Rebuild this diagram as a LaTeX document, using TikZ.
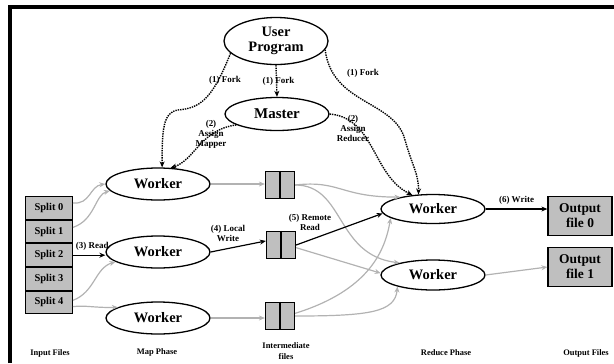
\documentclass[tikz,border=0pt]{standalone}
\usepackage{fontspec}
\setmainfont{Liberation Serif}
\usetikzlibrary{arrows.meta,positioning,shapes.geometric}

\begin{document}
\begin{tikzpicture}[
  x=1bp, y=-1bp,
  oval/.style={ellipse, draw, line width=1.3bp, minimum width=104bp, minimum height=32bp, inner sep=0pt, align=center, font=\bfseries\fontsize{14.5}{15}\selectfont},
  split/.style={rectangle, draw, line width=1bp, fill=black!25, minimum width=47bp, minimum height=22.6bp, inner sep=0pt, font=\bfseries\fontsize{10.5}{11}\selectfont},
  ifile/.style={rectangle, draw, line width=1.3bp, fill=black!25, minimum width=29bp, minimum height=27bp, inner sep=0pt},
  outbox/.style={rectangle, draw, line width=1.3bp, fill=black!25, minimum width=64bp, minimum height=39bp, inner sep=0pt, align=center, font=\bfseries\fontsize{13.5}{15}\selectfont},
  lbl/.style={align=center, inner sep=0pt, font=\bfseries\fontsize{9}{10}\selectfont},
  phase/.style={align=center, inner sep=0pt, font=\bfseries\fontsize{8.5}{11}\selectfont},
  fork/.style={draw, densely dotted, line width=1.4bp, -{Stealth[length=6bp,width=5bp]}},
  flow/.style={draw, line width=1.2bp, -{Stealth[length=6bp,width=5bp]}},
  idle/.style={draw, black!30, line width=1.2bp, -{Stealth[length=6bp,width=5bp]}},
]
  \useasboundingbox (0,0) rectangle (614,363);
  \draw[line width=4bp] (10.3,363) -- (10.3,7) -- (614,7);

  % master and user program
  \node[oval, minimum height=47bp] (user) at (276,41) {User\\Program};
  \node[oval, minimum height=33bp, font=\bfseries\fontsize{15}{16}\selectfont] (master) at (277,114) {Master};

  % input splits
  \node[split] (s0) at (49,208) {Split 0};
  \node[split, below=0pt of s0] (s1) {Split 1};
  \node[split, below=0pt of s1] (s2) {Split 2};
  \node[split, below=0pt of s2] (s3) {Split 3};
  \node[split, below=0pt of s3] (s4) {Split 4};

  % map workers
  \node[oval] (wm1) at (158,184) {Worker};
  \node[oval] (wm2) at (158,252) {Worker};
  \node[oval] (wm3) at (158,318) {Worker};

  % intermediate files
  \node[ifile] (if1) at (280,185) {};
  \node[ifile] (if2) at (281,245) {};
  \node[ifile] (if3) at (280,316) {};
  \draw[line width=1.3bp] (if1.north) -- (if1.south);
  \draw[line width=1.3bp] (if2.north) -- (if2.south);
  \draw[line width=1.3bp] (if3.north) -- (if3.south);

  % reduce workers and output
  \node[oval, minimum height=29bp] (wr1) at (433,209) {Worker};
  \node[oval, minimum height=30bp] (wr2) at (433,275) {Worker};
  \node[outbox] (o0) at (580,216) {Output\\file 0};
  \node[outbox] (o1) at (580,267) {Output\\file 1};

  % phase captions
  \node[phase] (capin) at (50,353) {Input Files};
  \node[phase] (capmap) at (157,352) {Map Phase};
  \node[phase] (capif) at (286,351) {Intermediate\\files};
  \node[phase] (capred) at (446,353) {Reduce Phase};
  \node[phase] (capout) at (586,353) {Output Files};

  % fork and assign
  \draw[fork] (user.south) -- node[lbl, pos=0.5, xshift=2bp] {(1) Fork} (master.north);
  \draw[fork] (user.195) .. controls (212,100) and (200,108) .. (178,110)
    .. controls (163,112) and (162,130) .. (wm1.76);
  \draw[fork] (master.195) .. controls (200,130) and (195,160) .. (wm1.52);
  \draw[fork] (user.-10) .. controls (332,105) and (395,100) .. (405,140)
    .. controls (412,165) and (419,175) .. (wr1.135);
  \draw[fork] (master.east) .. controls (375,118) and (372,175) .. (wr1.146);
  \node[lbl] (fork1) at (225,80) {(1) Fork};
  \node[lbl] (fork3) at (363,73) {(1) Fork};
  \node[lbl] (amap) at (211,134) {(2)\\Assign\\Mapper};
  \node[lbl] (ared) at (353,128) {(2)\\Assign\\Reducer};

  % reading splits
  \draw[idle] (s0.12) .. controls (90,205) and (90,186) .. (wm1.west);
  \draw[idle] (s1.10) .. controls (95,220) and (95,195) .. (wm1.188);
  \draw[flow] (s2.east) -- node[lbl, above=4bp, xshift=3bp] {(3) Read} (s2.east -| wm2.west);
  \draw[idle] (s4.5) .. controls (95,292) and (95,268) .. (wm2.193);
  \draw[idle] (s4.-10) .. controls (85,305) and (95,308) .. (wm3.165);

  % local write
  \draw[idle] (wm1.east) -- (wm1.east -| if1.west);
  \draw[flow] (wm2.east) -- (if2.165);
  \node[lbl] (lw) at (228,233) {(4) Local\\Write};
  \draw[idle] (wm3.east) -- (wm3.east -| if3.west);

  % remote read
  \draw[idle] (if1.east) .. controls (340,180) and (340,197) .. (wr1.160);
  \draw[idle] (if1.east) .. controls (345,185) and (335,255) .. (wr2.160);
  \draw[flow] (if2.east) -- (wr1.185);
  \node[lbl] (rr) at (310,222) {(5) Remote\\Read};
  \draw[idle] (if2.-10) -- (wr2.178);
  \draw[idle] (if3.10) .. controls (370,290) and (385,250) .. (wr1.192);
  \draw[idle] (if3.east) .. controls (370,316) and (395,312) .. (wr2.198);

  % output
  \draw[flow] (wr1.east) -- node[lbl, above=4bp] {(6) Write} (wr1.east -| o0.west);
  \draw[idle] (wr2.east) -- (o1.west);
\end{tikzpicture}
\end{document}
